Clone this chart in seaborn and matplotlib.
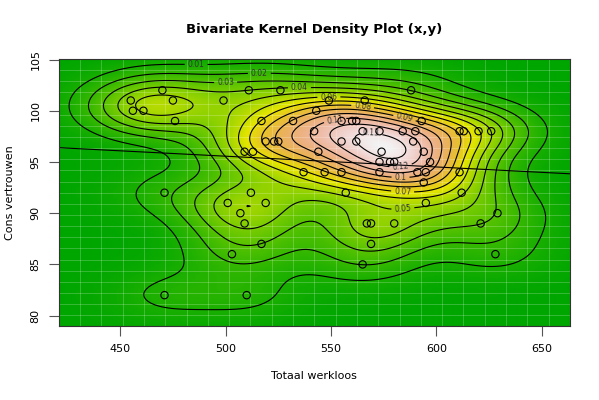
import matplotlib.pyplot as plt
import numpy as np
import pandas as pd
import seaborn as sns
from matplotlib.colors import LinearSegmentedColormap, hsv_to_rgb

# values (Totaal werkloos, Cons vertrouwen)
werkloos = [470, 455, 456, 461, 475, 476, 499, 511, 526, 517, 532, 519, 523, 525,
            509, 513, 537, 543, 542, 544, 471, 512, 501, 519, 507, 509, 517, 503,
            471, 510, 588, 549, 566, 555, 560, 562, 593, 565, 573, 584, 590, 611,
            613, 620, 626, 555, 562, 589, 574, 594, 573, 578, 580, 597, 547, 555,
            573, 591, 595, 611, 594, 557, 612, 595, 629, 567, 569, 580, 621, 569,
            628, 565]
vertrouwen = [102, 101, 100, 100, 101, 99, 101, 102, 102, 99, 99, 97, 97, 97,
              96, 96, 94, 100, 98, 96, 92, 92, 91, 91, 90, 89, 87, 86,
              82, 82, 102, 101, 101, 99, 99, 99, 99, 98, 98, 98, 98, 98,
              98, 98, 98, 97, 97, 97, 96, 96, 95, 95, 95, 95, 94, 94,
              94, 94, 94, 94, 93, 92, 92, 91, 90, 89, 89, 89, 89, 87,
              86, 85]
levels = [0.01, 0.02, 0.03, 0.04, 0.05, 0.06, 0.07, 0.08, 0.09, 0.10, 0.11, 0.12, 0.13]
peak = 0.135

df = pd.DataFrame({"x": werkloos, "y": vertrouwen})


def terrain(n=100):
    # R terrain.colors
    k = n // 2
    first = [hsv_to_rgb((h, 1, v)) for h, v in zip(np.linspace(4 / 12, 2 / 12, k), np.linspace(0.65, 0.9, k))]
    second = [hsv_to_rgb((h, s, v)) for h, s, v in zip(np.linspace(2 / 12, 0, n - k),
                                                         np.linspace(1, 0, n - k),
                                                         np.linspace(0.9, 0.95, n - k))]
    return LinearSegmentedColormap.from_list("terrain_r", first + second)


def bw(v):
    v = np.asarray(v, float)
    iqr = np.subtract(*np.percentile(v, [75, 25]))
    return 1.06 * min(v.std(ddof=1), iqr / 1.34) * len(v) ** -0.2


xlim = (420.8, 663.4)
ylim = (78.95, 105.05)
gx = np.linspace(*xlim, 150)
gy = np.linspace(*ylim, 150)
X, Y = np.meshgrid(gx, gy)
hx, hy = bw(df.x) * 0.95, bw(df.y) * 0.85
Z = np.zeros_like(X)
for px, py in zip(df.x, df.y):
    Z += np.exp(-0.5 * (((X - px) / hx) ** 2 + ((Y - py) / hy) ** 2))
Z = Z / Z.max() * peak

fig, ax = plt.subplots(figsize=(5.99, 4.0), dpi=100)
fig.subplots_adjust(left=0.098, right=0.9516, top=0.8525, bottom=0.184)

ax.pcolormesh(X, Y, Z, cmap=terrain(), shading="gouraud", vmin=0, vmax=peak)
# faint cell borders like the R image() raster
for v in np.linspace(*xlim, 25)[1:-1]:
    ax.axvline(v, color="white", lw=0.6, alpha=0.25)
for v in np.linspace(*ylim, 25)[1:-1]:
    ax.axhline(v, color="white", lw=0.6, alpha=0.25)

cs = ax.contour(X, Y, Z, levels=levels, colors="black", linewidths=0.8)
label_spots = [(486, 104.5), (516, 103.6), (500, 102.8), (535, 102.2), (584, 90.7),
               (549, 101.3), (584, 92.2), (565, 100.4), (585, 99.4), (583, 93.6),
               (552, 99.0), (583, 94.8), (569, 97.8)]
ax.clabel(cs, fmt=lambda v: f"{v:g}", fontsize=5.5, colors="#333333", inline=True,
          inline_spacing=3, manual=label_spots)

sns.scatterplot(data=df, x="x", y="y", ax=ax, marker="o", s=28,
                facecolor="none", edgecolor="black", linewidth=0.8, zorder=5)
ax.set_xlim(xlim)
ax.set_ylim(ylim)
sns.regplot(data=df, x="x", y="y", ax=ax, scatter=False, ci=None, truncate=False,
            line_kws={"color": "black", "lw": 0.8})
ax.set_xlim(xlim)
ax.set_ylim(ylim)

ax.set_xticks([450, 500, 550, 600, 650])
ax.set_yticks([80, 85, 90, 95, 100, 105])
ax.tick_params(labelsize=8, length=7, color="#555555", pad=6)
for lab in ax.get_yticklabels():
    lab.set_rotation(90)
    lab.set_va("center")
ax.set_xlabel("Totaal werkloos", fontsize=8, labelpad=12)
ax.set_ylabel("Cons vertrouwen", fontsize=8, labelpad=11)
ax.set_title("Bivariate Kernel Density Plot (x,y)", fontsize=9.5, fontweight="bold", pad=19)
for s in ax.spines.values():
    s.set_color("#333333")

fig.savefig("out.png", dpi=100)
